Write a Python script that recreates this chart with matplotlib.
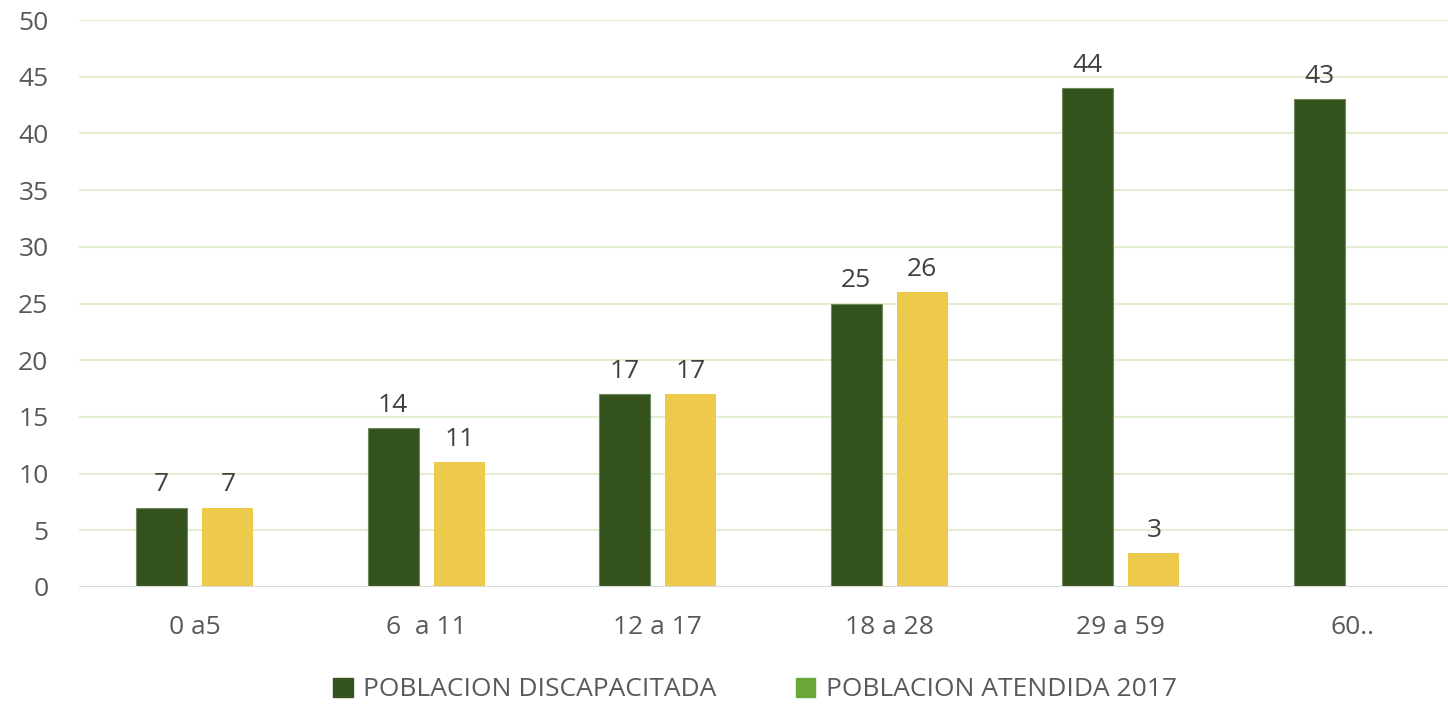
import numpy as np
import matplotlib.pyplot as plt
from matplotlib.patches import Patch

# data
categorias = ['0 a5', '6  a 11', '12 a 17', '18 a 28', '29 a 59', '60..']
discapacitada = [7, 14, 17, 25, 44, 43]
atendida = [7, 11, 17, 26, 3, None]

plt.rcParams['font.family'] = ['Open Sans', 'DejaVu Sans']

fig = plt.figure(figsize=(14.48, 7.05), dpi=100)
ax = fig.add_axes([79/1448, 1-587/705, 1-79/1448, (587-20)/705])

x = np.arange(len(categorias))
w = 0.22
off = 0.143
verde = '#33521C'
amarillo = '#EDC94C'

ax.bar(x - off, discapacitada, w, color=verde, edgecolor='#6E8A5C', linewidth=0.8, zorder=3)
at_vals = [v if v is not None else 0 for v in atendida]
ax.bar(x + off, at_vals, w, color=amarillo, zorder=3)

for xi, v in zip(x, discapacitada):
    ax.text(xi - off, v + 0.9, str(v), ha='center', va='bottom', fontsize=19, color='#404040')
for xi, v in zip(x, atendida):
    if v is not None:
        ax.text(xi + off, v + 0.9, str(v), ha='center', va='bottom', fontsize=19, color='#404040')

ax.set_ylim(0, 50)
ax.set_xlim(-0.5, -0.5 + 1369/231.5)
ax.set_yticks(range(0, 51, 5))
ax.set_xticks(x)
ax.set_xticklabels(categorias)
ax.tick_params(axis='both', length=0, labelsize=19, labelcolor='#595959')
ax.tick_params(axis='x', pad=20)
ax.tick_params(axis='y', pad=22)
for s in ax.spines.values():
    s.set_visible(False)
ax.grid(axis='y', color='#E2EFD0', linewidth=1.5, zorder=0)
ax.axhline(0, color='#D9D9D9', linewidth=1.5, zorder=4)

handles = [Patch(color=verde), Patch(color='#6AA73A')]
fig.legend(handles, ['POBLACION DISCAPACITADA', 'POBLACION ATENDIDA 2017'],
           loc='center', bbox_to_anchor=(755/1448, 1-690/705), ncol=2, frameon=False,
           fontsize=19, labelcolor='#595959', handlelength=0.75, handleheight=0.75,
           handletextpad=0.4, columnspacing=3.0)

fig.savefig('out.png', dpi=100)
